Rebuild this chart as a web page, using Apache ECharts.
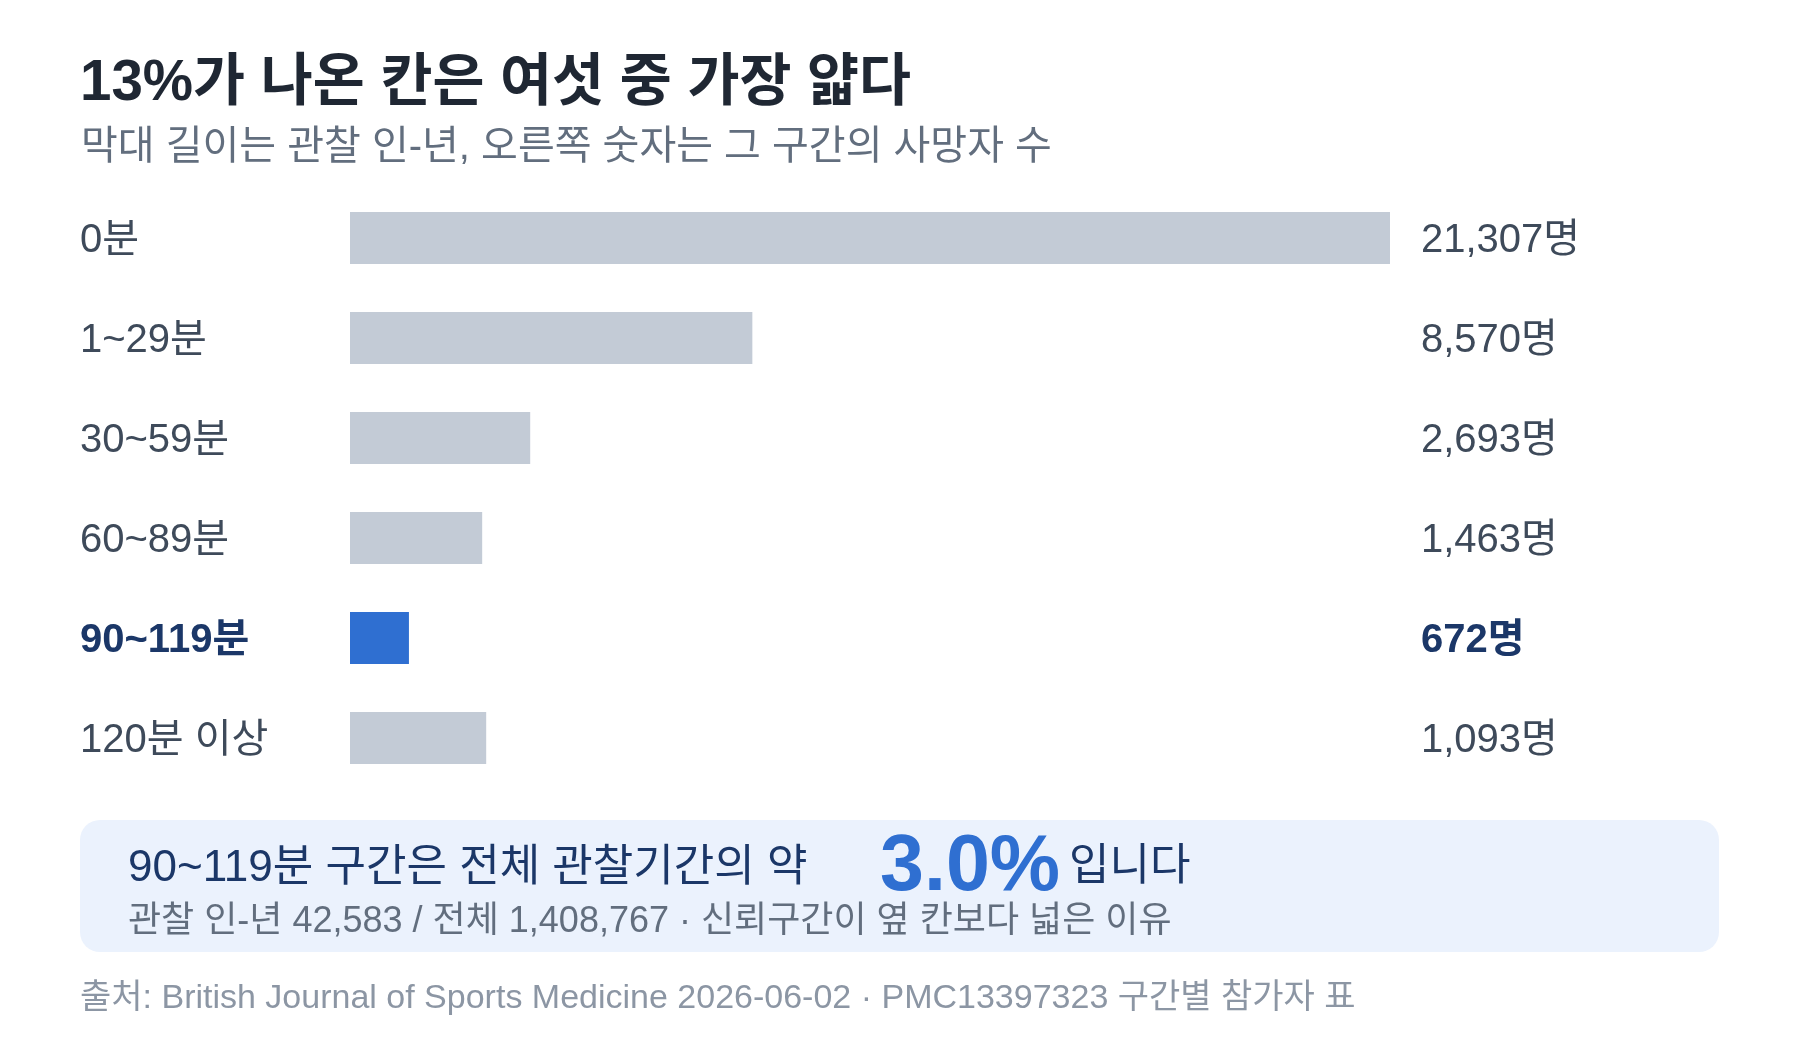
<!DOCTYPE html>
<html>
<head>
<meta charset="utf-8">
<script src="https://cdn.jsdelivr.net/npm/echarts@6/dist/echarts.min.js"></script>
<style>
html,body{margin:0;padding:0;background:#fff;}
#chart{width:1800px;height:1040px;}
</style>
</head>
<body>
<div id="chart"></div>
<script>
// ---- data ----
const categories = ['0분', '1~29분', '30~59분', '60~89분', '90~119분', '120분 이상'];
const personYears = [751400, 290700, 130200, 95500, 42583, 98400]; // 관찰 인-년 (bar length)
const deaths = [21307, 8570, 2693, 1463, 672, 1093];              // 사망자 수
const highlightIndex = 4;

const titleText = '13%가 나온 칸은 여섯 중 가장 얇다';
const subtitleText = '막대 길이는 관찰 인-년, 오른쪽 숫자는 그 구간의 사망자 수';
const calloutLead = '90~119분 구간은 전체 관찰기간의 약';
const calloutValue = '3.0%';
const calloutTail = '입니다';
const calloutNote = '관찰 인-년 42,583 / 전체 1,408,767 · 신뢰구간이 옆 칸보다 넓은 이유';
const sourceText = '출처: British Journal of Sports Medicine 2026-06-02 · PMC13397323 구간별 참가자 표';

// ---- styles ----
const FONT = '"Liberation Sans", Arial, "Noto Sans CJK KR", sans-serif';
const C_TITLE = '#1f2733';
const C_SUB = '#626e7e';
const C_LABEL = '#3e4a5a';
const C_HL = '#1b3768';
const C_BAR = '#c3cbd6';
const C_BAR_HL = '#2f6fd1';

const deathLabels = deaths.map(d => d.toLocaleString('en-US') + '명');

const chart = echarts.init(document.getElementById('chart'), null, {renderer: 'canvas'});

function labelFmt() {
  return function (value, index) {
    return index === highlightIndex ? '{hl|' + value + '}' : '{n|' + value + '}';
  };
}
const richStyles = {
  n: {fontSize: 40, color: C_LABEL, fontFamily: FONT, padding: [6, 0, 0, 0]},
  hl: {fontSize: 40, color: C_HL, fontWeight: 'bold', fontFamily: FONT, padding: [6, 0, 0, 0]}
};

chart.setOption({
  backgroundColor: '#ffffff',
  animation: false,
  grid: {left: 350, right: 410, top: 188, bottom: 252, containLabel: false},
  xAxis: {type: 'value', min: 0, max: 'dataMax', show: false},
  yAxis: [
    {
      type: 'category', data: categories, inverse: true, position: 'left',
      axisLine: {show: false}, axisTick: {show: false}, splitLine: {show: false},
      axisLabel: {align: 'left', margin: 270, formatter: labelFmt(), rich: richStyles}
    },
    {
      type: 'category', data: deathLabels, inverse: true, position: 'right',
      axisLine: {show: false}, axisTick: {show: false}, splitLine: {show: false},
      axisLabel: {align: 'left', margin: 31, formatter: labelFmt(), rich: richStyles}
    }
  ],
  series: [{
    type: 'bar', yAxisIndex: 0, barWidth: 52,
    data: personYears.map((v, i) => ({
      value: v,
      itemStyle: {color: i === highlightIndex ? C_BAR_HL : C_BAR}
    })),
    silent: true
  }],
  graphic: [
    {type: 'text', x: 80, y: 84, style: {text: titleText, font: 'bold 56.5px ' + FONT, fill: C_TITLE, verticalAlign: 'middle'}},
    {type: 'text', x: 81, y: 148, style: {text: subtitleText, font: '40px ' + FONT, fill: C_SUB, verticalAlign: 'middle'}},
    {type: 'rect', shape: {x: 80, y: 820, width: 1639, height: 132, r: 20}, style: {fill: '#ebf2fd'}},
    {type: 'text', x: 128, y: 869, style: {text: calloutLead, font: '44px ' + FONT, fill: C_HL, verticalAlign: 'middle'}},
    {type: 'text', x: 880, y: 868, style: {text: calloutValue, font: 'bold 79px ' + FONT, fill: C_BAR_HL, verticalAlign: 'middle'}},
    {type: 'text', x: 1069, y: 868, style: {text: calloutTail, font: '44px ' + FONT, fill: C_HL, verticalAlign: 'middle'}},
    {type: 'text', x: 128, y: 922, style: {text: calloutNote, font: '36px ' + FONT, fill: C_SUB, verticalAlign: 'middle'}},
    {type: 'text', x: 80, y: 999, style: {text: sourceText, font: '34px ' + FONT, fill: '#8c96a4', verticalAlign: 'middle'}}
  ]
});
</script>
</body>
</html>
